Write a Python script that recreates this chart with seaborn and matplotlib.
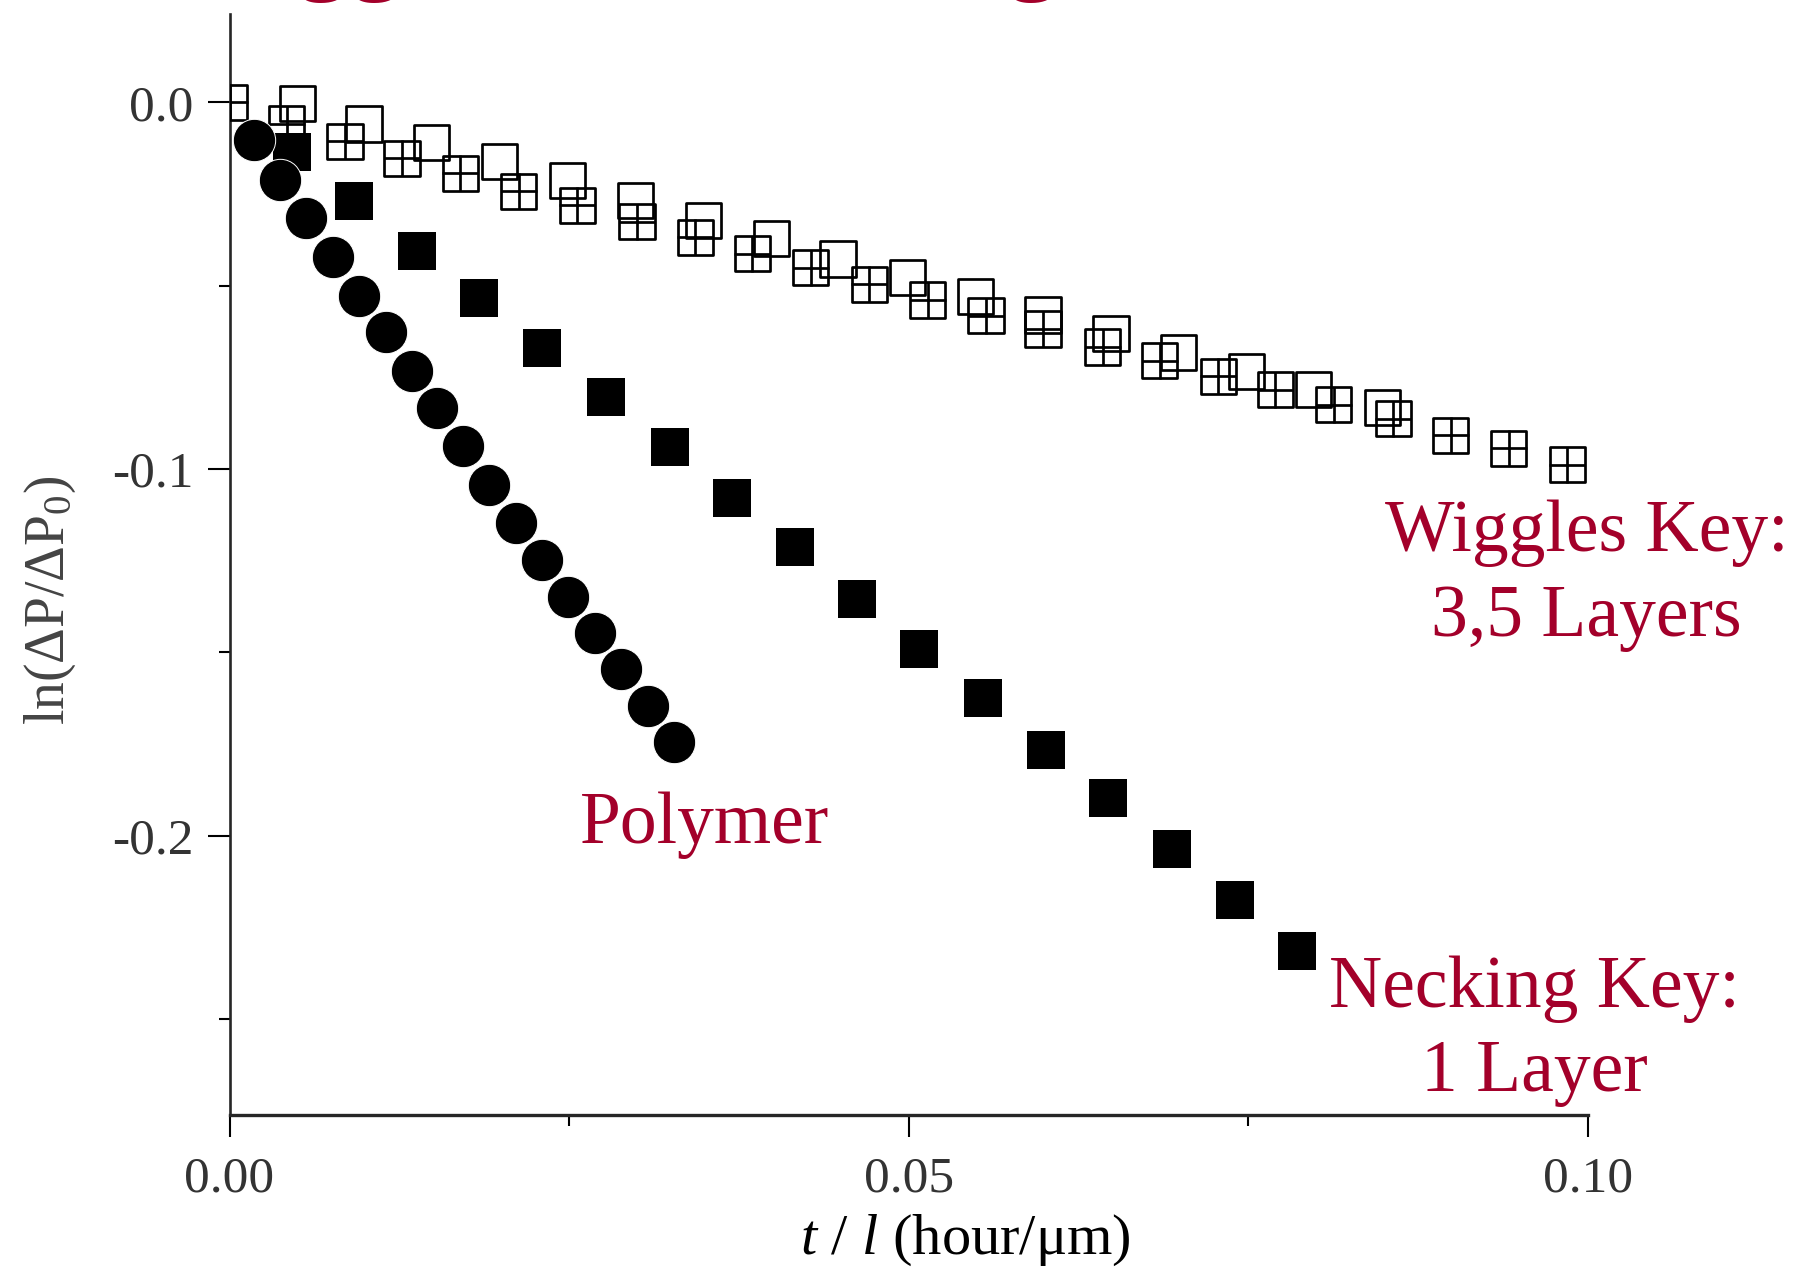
import matplotlib
matplotlib.use("Agg")
import matplotlib.pyplot as plt
import seaborn as sns
from matplotlib.ticker import FixedLocator, FormatStrFormatter

# ---------------- data ----------------
polymer_t = [0.0018, 0.0037, 0.0056, 0.0076, 0.0095, 0.0115, 0.0134, 0.0153, 0.0172,
             0.0191, 0.0211, 0.0230, 0.0249, 0.0269, 0.0288, 0.0308, 0.0327]
polymer_ln = [-0.0103, -0.0212, -0.0316, -0.0421, -0.0528, -0.0627, -0.0733, -0.0834, -0.0937,
              -0.1043, -0.1146, -0.1248, -0.1348, -0.1446, -0.1546, -0.1646, -0.1743]

necking_t = [0.0046, 0.0092, 0.0138, 0.0184, 0.0230, 0.0277, 0.0324, 0.0370, 0.0416,
             0.0462, 0.0508, 0.0555, 0.0601, 0.0647, 0.0694, 0.0740, 0.0786]
necking_ln = [-0.0135, -0.0268, -0.0405, -0.0534, -0.0669, -0.0804, -0.0939, -0.1078, -0.1212,
              -0.1355, -0.1490, -0.1623, -0.1766, -0.1897, -0.2035, -0.2175, -0.2313]

wiggles_open_t = [0.0050, 0.0099, 0.0149, 0.0199, 0.0249, 0.0299, 0.0349, 0.0399, 0.0448,
                  0.0499, 0.0549, 0.0599, 0.0649, 0.0699, 0.0749, 0.0798, 0.0849]
wiggles_open_ln = [-0.0004, -0.0059, -0.0110, -0.0161, -0.0214, -0.0268, -0.0322, -0.0371, -0.0427,
                   -0.0478, -0.0529, -0.0580, -0.0630, -0.0681, -0.0733, -0.0782, -0.0832]

wiggles_cross_t = [0.0, 0.0042, 0.0085, 0.0127, 0.0170, 0.0213, 0.0256, 0.0300, 0.0343, 0.0385,
                   0.0428, 0.0471, 0.0514, 0.0557, 0.0599, 0.0643, 0.0685, 0.0728, 0.0770,
                   0.0813, 0.0857, 0.0899, 0.0942, 0.0985]
wiggles_cross_ln = [0.0, -0.0058, -0.0106, -0.0152, -0.0193, -0.0243, -0.0281, -0.0326, -0.0368, -0.0413,
                    -0.0451, -0.0496, -0.0539, -0.0582, -0.0618, -0.0667, -0.0705, -0.0747, -0.0784,
                    -0.0824, -0.0863, -0.0908, -0.0943, -0.0988]

x_major_ticks = [0.00, 0.05, 0.10]
x_minor_ticks = [0.025, 0.075]
y_major_ticks = [0.0, -0.1, -0.2]
y_minor_ticks = [-0.05, -0.15, -0.25]

x_label = "$t$ / $l$ (hour/\u03bcm)"
y_label = "ln(\u0394P/\u0394P$_0$)"
title_text = "Wiggles vs. Necking"
wiggles_note = "Wiggles Key:\n3,5 Layers"
necking_note = "Necking Key:\n1 Layer"
polymer_note = "Polymer"

# ---------------- style ----------------
sns.set_style("ticks")
plt.rcParams['font.family'] = ['Liberation Serif', 'DejaVu Serif']
plt.rcParams['mathtext.fontset'] = 'custom'
plt.rcParams['mathtext.rm'] = 'Liberation Serif'
plt.rcParams['mathtext.it'] = 'Liberation Serif:italic'
plt.rcParams['axes.unicode_minus'] = False

RED = '#A3002A'

fig = plt.figure(figsize=(18.04, 12.70), dpi=100)
ax = fig.add_axes([0.12722, 0.12205, 0.75288, 0.86669])

sq_lw = 1.95
sns.scatterplot(x=wiggles_open_t, y=wiggles_open_ln, marker='s', s=640,
                facecolor='none', edgecolor='black', linewidth=sq_lw, ax=ax, zorder=3, legend=False)
sns.scatterplot(x=wiggles_cross_t, y=wiggles_cross_ln, marker='s', s=640,
                facecolor='none', edgecolor='black', linewidth=sq_lw, ax=ax, zorder=3, legend=False)
sns.scatterplot(x=wiggles_cross_t, y=wiggles_cross_ln, marker='+', s=640,
                color='black', linewidth=sq_lw, ax=ax, zorder=3, legend=False)
sns.scatterplot(x=necking_t, y=necking_ln, marker='s', s=770,
                color='black', edgecolor='black', linewidth=0, ax=ax, zorder=4, legend=False)
sns.scatterplot(x=polymer_t, y=polymer_ln, marker='o', s=930,
                color='black', edgecolor='white', linewidth=0.7, ax=ax, zorder=5, legend=False)

ax.set_xlim(0.0, 0.10)
ax.set_ylim(-0.2761, 0.0240)

ax.xaxis.set_major_locator(FixedLocator(x_major_ticks))
ax.xaxis.set_minor_locator(FixedLocator(x_minor_ticks))
ax.yaxis.set_major_locator(FixedLocator(y_major_ticks))
ax.yaxis.set_minor_locator(FixedLocator(y_minor_ticks))
ax.xaxis.set_major_formatter(FormatStrFormatter('%.2f'))
ax.yaxis.set_major_formatter(FormatStrFormatter('%.1f'))

sns.despine(ax=ax)
ax.spines['left'].set_linewidth(1.9)
ax.spines['bottom'].set_linewidth(2.4)
ax.tick_params(axis='both', which='major', direction='out', length=15.5, width=1.5,
               labelsize=37, labelcolor='#333333', color='black')
ax.tick_params(axis='both', which='minor', direction='out', length=7.8, width=1.5, color='black')
ax.tick_params(axis='x', which='major', pad=14)
ax.tick_params(axis='y', which='major', pad=10.5)

ax.set_xlabel(x_label, fontsize=42, color='black')
ax.xaxis.label.set_va('center')
ax.xaxis.set_label_coords(0.5415, -0.1136)
ax.set_ylabel(y_label, fontsize=40, color='#444444')
ax.yaxis.label.set_va('center')
ax.yaxis.set_label_coords(-0.1322, 0.468)

# red annotations (va='baseline' anchors the last line's baseline)
ax.text(0.0999, -0.1455, wiggles_note, color=RED, fontsize=53, ha='center', va='baseline',
        multialignment='center', linespacing=1.33)
ax.text(0.0961, -0.2696, necking_note, color=RED, fontsize=53, ha='center', va='baseline',
        multialignment='center', linespacing=1.33)
ax.text(0.0350, -0.2020, polymer_note, color=RED, fontsize=53, ha='center', va='baseline')

# partially visible heading cut off at the top edge (as in the reference)
fig.text(0.0938, 1.0157, title_text, color=RED, fontsize=77, ha='left', va='baseline')

fig.savefig('out.png', dpi=100)
